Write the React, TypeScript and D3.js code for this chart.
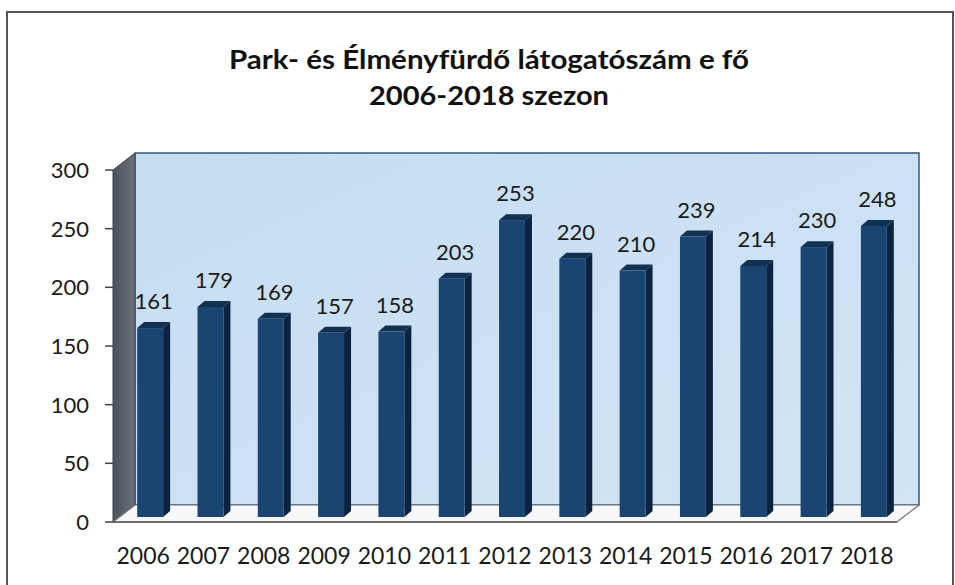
import React from "react";
import * as d3 from "d3";

const years = ["2006","2007","2008","2009","2010","2011","2012","2013","2014","2015","2016","2017","2018"];
const visitors = [161,179,169,157,158,203,253,220,210,239,214,230,248];
const yTicks = [0,50,100,150,200,250,300];
const titleLines = ["Park- és Élményfürdő látogatószám e fő", "2006-2018 szezon"];

const W = 955, H = 585;
const front = { x0: 113, x1: 897, yTop: 170, yBottom: 522 };
const depth = { dx: 22, dy: -17 };
const barShift = { dx: 7, dy: -5 };
const barDepth = { dx: 7, dy: -6 };
const titleWidths = [520, 240];

export default function App() {
  const x = d3.scaleBand<string>().domain(years).range([front.x0, front.x1]).paddingInner(0.57).paddingOuter(0.285);
  const y = d3.scaleLinear().domain([0, 300]).range([front.yBottom, front.yTop]);
  const xc = d3.scaleBand<string>().domain(years).range([front.x0, front.x1]);
  const bx0 = front.x0 + depth.dx, bx1 = front.x1 + depth.dx;
  const by0 = front.yTop + depth.dy, by1 = front.yBottom + depth.dy;
  const font = "Lato, 'Open Sans', sans-serif";
  return (
    <svg width={W} height={H} style={{ position: "absolute", left: 0, top: 0, background: "#fff" }}>
      <defs>
        <linearGradient id="wallBack" x1="0" y1="0" x2="1" y2="1">
          <stop offset="0" stopColor="#c6ddf2" />
          <stop offset="1" stopColor="#d2e4f5" />
        </linearGradient>
        <linearGradient id="wallLeft" x1="0" y1="0" x2="1" y2="0">
          <stop offset="0" stopColor="#4d535e" />
          <stop offset="1" stopColor="#6b707a" />
        </linearGradient>
      </defs>
      <rect x={0} y={0} width={W} height={H} fill="#fff" />
      <rect x={7} y={12} width={946} height={600} fill="none" stroke="#555" strokeWidth={2} />
      {titleLines.map((t, i) => (
        <text key={i} x={489} y={69 + i * 36} textAnchor="middle" fontFamily={font} fontWeight={700} fontSize={26}
          textLength={titleWidths[i]} lengthAdjust="spacingAndGlyphs" fill="#111">{t}</text>
      ))}
      {/* back wall */}
      <rect x={bx0} y={by0} width={bx1 - bx0} height={by1 - by0} fill="url(#wallBack)" stroke="#2c5a86" strokeWidth={1.5} />
      {/* left wall */}
      <polygon points={`${front.x0},${front.yBottom} ${front.x0},${front.yTop} ${bx0},${by0} ${bx0},${by1}`} fill="url(#wallLeft)" stroke="#3b4048" strokeWidth={1} />
      {/* floor */}
      <polygon points={`${front.x0},${front.yBottom} ${bx0},${by1} ${bx1},${by1} ${front.x1},${front.yBottom}`} fill="#f6f8fa" stroke="#707478" strokeWidth={1.2} />
      {/* ticks */}
      {yTicks.map(t => (
        <g key={t}>
          <line x1={105} x2={front.x0} y1={y(t)} y2={y(t)} stroke="#444" strokeWidth={1.5} />
          <text x={89} y={y(t)} dy="0.36em" textAnchor="end" fontFamily={font} fontSize={22} fill="#1a1a1a">{t}</text>
        </g>
      ))}
      <line x1={front.x0} x2={front.x1} y1={front.yBottom} y2={front.yBottom} stroke="#555" strokeWidth={1.5} />
      {/* bars */}
      {years.map((yr, i) => {
        const v = visitors[i];
        const l = (x(yr) as number) + barShift.dx;
        const r = l + x.bandwidth();
        const b = y(0) + barShift.dy;
        const t = y(v) + barShift.dy;
        const ddx = barDepth.dx, ddy = barDepth.dy;
        return (
          <g key={yr}>
            <polygon points={`${r},${b} ${r},${t} ${r + ddx},${t + ddy} ${r + ddx},${b + ddy}`} fill="#0c2340" />
            <polygon points={`${l},${t} ${l + ddx},${t + ddy} ${r + ddx},${t + ddy} ${r},${t}`} fill="#12304f" />
            <rect x={l} y={t} width={r - l} height={b - t} fill="#1a4572" />
            <text x={(l + r + ddx) / 2} y={t + ddy - 13} textAnchor="middle" fontFamily={font} fontSize={22} fill="#1a1a1a">{v}</text>
          </g>
        );
      })}
      {years.map(yr => (
        <text key={yr} x={(xc(yr) as number) + xc.bandwidth() / 2} y={564} textAnchor="middle" fontFamily={font} fontSize={23} fill="#1a1a1a">{yr}</text>
      ))}
    </svg>
  );
}
